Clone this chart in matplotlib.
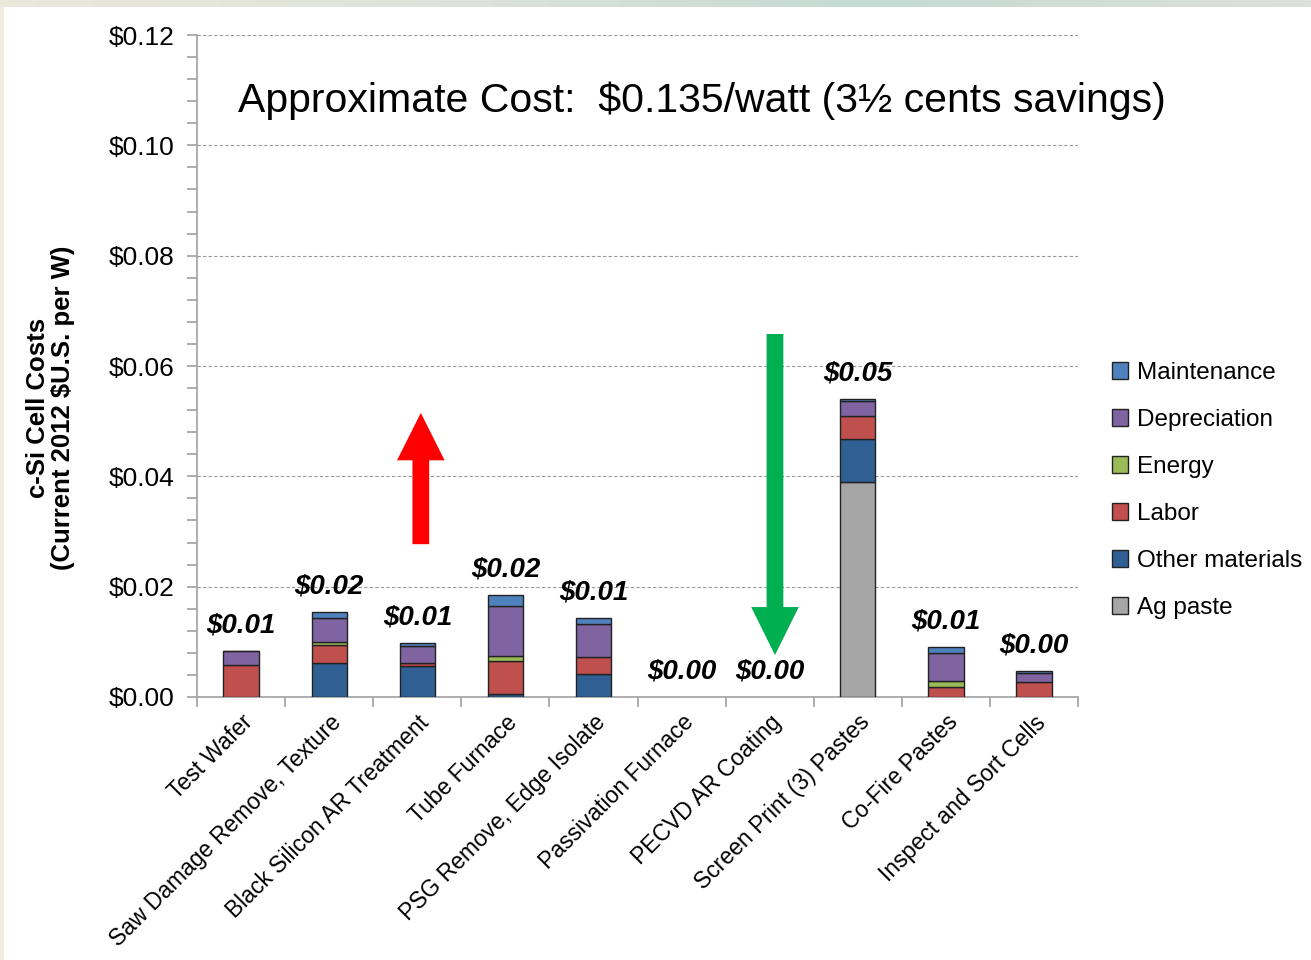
import matplotlib.pyplot as plt
import numpy as np
from matplotlib.patches import FancyArrow
from matplotlib.colors import LinearSegmentedColormap
from matplotlib.ticker import MultipleLocator, FuncFormatter

steps = ['Test Wafer', 'Saw Damage Remove, Texture', 'Black Silicon AR Treatment',
         'Tube Furnace', 'PSG Remove, Edge Isolate', 'Passivation Furnace',
         'PECVD AR Coating', 'Screen Print (3) Pastes', 'Co-Fire Pastes',
         'Inspect and Sort Cells']

# cost components, $/W, bottom of the stack first
ag_paste    = [0, 0, 0, 0, 0, 0, 0, 0.0389, 0, 0]
other_mat   = [0, 0.0062, 0.0057, 0.0005, 0.0041, 0, 0, 0.0079, 0, 0]
labor       = [0.0058, 0.0033, 0.0005, 0.0061, 0.0031, 0, 0, 0.0042, 0.0018, 0.0027]
energy      = [0, 0.0004, 0, 0.0008, 0, 0, 0, 0, 0.0011, 0]
depreciation= [0.0025, 0.0045, 0.0031, 0.0091, 0.0060, 0, 0, 0.0026, 0.0051, 0.0016]
maintenance = [0.0001, 0.0010, 0.0005, 0.0019, 0.0012, 0, 0, 0.0004, 0.0010, 0.0004]

series = [('Ag paste', ag_paste, '#a6a6a6'),
          ('Other materials', other_mat, '#2f5f93'),
          ('Labor', labor, '#c0504d'),
          ('Energy', energy, '#9bbb59'),
          ('Depreciation', depreciation, '#8064a2'),
          ('Maintenance', maintenance, '#4f81bd')]

title = 'Approximate Cost:  \\$0.135/watt (3\u00bd cents savings)'

plt.rcParams['font.family'] = ['Liberation Sans', 'DejaVu Sans']

fig = plt.figure(figsize=(13.11, 9.6), dpi=100)
ax = fig.add_axes([0.1503, 0.274, 0.6720, 0.6895])

x = np.arange(len(steps))
bottom = np.zeros(len(steps))
for name, vals, col in series:
    vals = np.array(vals)
    nz = vals > 0
    ax.bar(x[nz], vals[nz], 0.4, bottom=bottom[nz], color=col, edgecolor='#222222',
           linewidth=1.0, label=name, zorder=3)
    bottom += vals

for xi, tot in zip(x, bottom):
    ax.annotate('\\$%.2f' % tot, (xi, tot), xytext=(0, 9), textcoords='offset points',
                ha='center', va='bottom', fontsize=20, fontweight='bold',
                fontstyle='italic', zorder=4)

ax.set_xlim(-0.5, len(steps) - 0.5)
ax.set_ylim(0, 0.12)
ax.yaxis.set_major_locator(MultipleLocator(0.02))
ax.yaxis.set_minor_locator(MultipleLocator(0.004))
ax.yaxis.set_major_formatter(FuncFormatter(lambda v, p: '\\$%.2f' % v))
ax.grid(axis='y', which='major', color='#999999', linestyle=(0, (3, 2)), linewidth=0.8, zorder=0)
for lab in ax.get_yticklabels():
    lab.set_fontsize(19)

ax.set_xticks(np.arange(-0.5, len(steps), 1.0))
ax.set_xticklabels([])
ax.set_xticks(x, minor=True)
ax.set_xticklabels(steps, minor=True, rotation=45, ha='right', rotation_mode='anchor',
                   fontsize=16.5)
ax.tick_params(axis='x', which='minor', length=0, pad=10)
ax.tick_params(axis='x', which='major', length=7, color='#a0a0a0', width=1.2)
ax.tick_params(axis='y', which='both', length=7, color='#a0a0a0', width=1.2, pad=9)

for s in ['top', 'right']:
    ax.spines[s].set_visible(False)
for s in ['left', 'bottom']:
    ax.spines[s].set_color('#a0a0a0')
    ax.spines[s].set_linewidth(1.2)

ax.set_ylabel('c-Si Cell Costs\n(Current 2012 \\$U.S. per W)', fontsize=18.5,
              fontweight='bold', linespacing=1.1)
ax.yaxis.set_label_coords(-0.138, 0.437)

ax.text(0.047, 0.9, title, transform=ax.transAxes, fontsize=29.5, ha='left', va='center')

# direction arrows
ax.add_patch(FancyArrow(2.04, 0.0277, 0, 0.0238, width=0.19, head_width=0.54,
                        head_length=0.0086, length_includes_head=True,
                        color='#ff0000', lw=0, zorder=5))
ax.add_patch(FancyArrow(6.06, 0.0658, 0, -0.0582, width=0.19, head_width=0.54,
                        head_length=0.0087, length_includes_head=True,
                        color='#00b050', lw=0, zorder=5))

h, l = ax.get_legend_handles_labels()
fig.legend(h[::-1], l[::-1], loc='upper left', bbox_to_anchor=(0.8405, 0.633),
           frameon=False, fontsize=17.5, handlelength=0.68, handleheight=0.68,
           handletextpad=0.35, labelspacing=1.03, borderaxespad=0)

# slide background strips
band = fig.add_axes([0, 1 - 7 / 960, 1, 7 / 960])
cmap = LinearSegmentedColormap.from_list('band', ['#ebe8dc', '#dde3da', '#c5dbd4', '#dde1d9'])
band.imshow(np.linspace(0, 1, 256)[None, :], aspect='auto', cmap=cmap)
band.axis('off')
side = fig.add_axes([0, 0, 4 / 1311, 1 - 7 / 960])
side.set_facecolor('#f3ece0')
side.set_xticks([])
side.set_yticks([])
for s in side.spines.values():
    s.set_visible(False)

fig.savefig('out.png', dpi=100)
